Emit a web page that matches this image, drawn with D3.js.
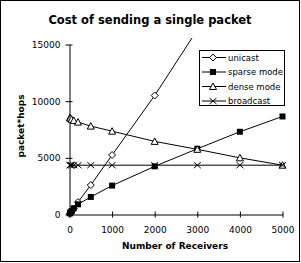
<!DOCTYPE html>
<html lang="en">
<head>
<script src="https://d3js.org/d3.v7.min.js"></script>
<style>
  body { margin: 0; background: #fff; }
  text { font-family: "DejaVu Sans", sans-serif; fill: #000; }
</style>
</head>
<body>
<script>
    // Data
    const receivers = [10, 20, 50, 100, 200, 500, 1000, 2000, 3000, 4000, 5000];
    const unicast   = [50, 100, 260, 520, 1100, 2600, 5250, 10500, 16300, null, null];
    const sparse    = [100, 200, 300, 550, 900, 1550, 2550, 4250, 5800, 7300, 8650];
    const dense     = [8550, 8500, 8400, 8300, 8150, 7800, 7350, 6450, 5750, 5000, 4350];
    const broadcast = [4350, 4350, 4350, 4350, 4350, 4350, 4350, 4350, 4350, 4350, 4350];
    const seriesNames = ["unicast", "sparse mode", "dense mode", "broadcast"];
    const xTicks = [0, 1000, 2000, 3000, 4000, 5000];
    const yTicks = [0, 5000, 10000, 15000];

    const W = 301, H = 263;
    const svg = d3.select("body").append("svg")
      .attr("width", W).attr("height", H);

    // frame
    svg.append("rect")
      .attr("x", 0.5).attr("y", 0.5).attr("width", 299).attr("height", 261)
      .attr("fill", "none").attr("stroke", "#000");

    const x = d3.scaleLinear().domain([0, 5000]).range([69.5, 282.5]);
    const y = d3.scaleLinear().domain([0, 15000]).range([214.5, 44.5]);

    // title
    svg.append("text")
      .attr("x", 150).attr("y", 24)
      .attr("text-anchor", "middle")
      .style("font-weight", "bold").style("font-size", "11.5px")
      .text("Cost of sending a single packet");

    // axes
    const gy = svg.append("g")
      .attr("transform", "translate(" + x(0) + ",0)")
      .call(d3.axisLeft(y).tickValues(yTicks).tickFormat(d3.format("d"))
        .tickSize(4).tickSizeOuter(0).tickPadding(5));
    gy.selectAll(".tick line").attr("x1", 3);
    gy.selectAll("text").style("font-size", "9px");

    const gx = svg.append("g")
      .attr("transform", "translate(0," + y(0) + ")")
      .call(d3.axisBottom(x).tickValues(xTicks).tickFormat(d3.format("d"))
        .tickSize(3).tickSizeOuter(0).tickPadding(9));
    gx.selectAll(".tick line").attr("y1", -3);
    gx.selectAll("text").style("font-size", "9px");
    svg.selectAll(".domain").attr("stroke", "#000");

    // axis titles
    svg.append("text")
      .attr("x", 175).attr("y", 249)
      .attr("text-anchor", "middle")
      .style("font-weight", "bold").style("font-size", "9px")
      .text("Number of Receivers");
    svg.append("text")
      .attr("transform", "translate(24,126) rotate(-90)")
      .attr("text-anchor", "middle")
      .style("font-weight", "bold").style("font-size", "9px")
      .text("packet*hops");

    // clip to plot area
    svg.append("clipPath").attr("id", "plot")
      .append("rect").attr("x", 60).attr("y", 38).attr("width", 235).attr("height", 185);

    const marker = {
      "unicast": g => g.append("path").attr("d", "M0,-3.5L3.5,0L0,3.5L-3.5,0Z")
        .attr("fill", "#fff").attr("stroke", "#000"),
      "sparse mode": g => g.append("rect").attr("x", -3).attr("y", -3)
        .attr("width", 6).attr("height", 6).attr("fill", "#000"),
      "dense mode": g => g.append("path").attr("d", "M0,-3.5L3.5,3L-3.5,3Z")
        .attr("fill", "#fff").attr("stroke", "#000"),
      "broadcast": g => g.append("path").attr("d", "M-3.5,-3L3.5,3M-3.5,3L3.5,-3")
        .attr("fill", "none").attr("stroke", "#000")
    };

    const allSeries = [unicast, sparse, dense, broadcast];
    const line = d3.line()
      .defined(d => d[1] != null)
      .x(d => x(d[0])).y(d => y(d[1]));

    const plot = svg.append("g").attr("clip-path", "url(#plot)");
    allSeries.forEach((vals, i) => {
      const pts = receivers.map((r, j) => [r, vals[j]]);
      plot.append("path").datum(pts)
        .attr("fill", "none").attr("stroke", "#000").attr("stroke-width", 1)
        .attr("d", line);
      pts.filter(p => p[1] != null).forEach(p => {
        const g = plot.append("g")
          .attr("transform", "translate(" + x(p[0]) + "," + y(p[1]) + ")");
        marker[seriesNames[i]](g);
      });
    });

    // legend
    const lg = svg.append("g");
    lg.append("rect")
      .attr("x", 199.5).attr("y", 50.5).attr("width", 85).attr("height", 55)
      .attr("fill", "#fff").attr("stroke", "#000");
    seriesNames.forEach((name, i) => {
      const cy = 57.5 + i * 14.5;
      lg.append("line")
        .attr("x1", 202).attr("x2", 226).attr("y1", cy).attr("y2", cy)
        .attr("stroke", "#000");
      const g = lg.append("g").attr("transform", "translate(213," + cy + ")");
      marker[name](g);
      lg.append("text")
        .attr("x", 228).attr("y", cy + 3)
        .style("font-size", "8.5px")
        .text(name);
    });
</script>
</body>
</html>
